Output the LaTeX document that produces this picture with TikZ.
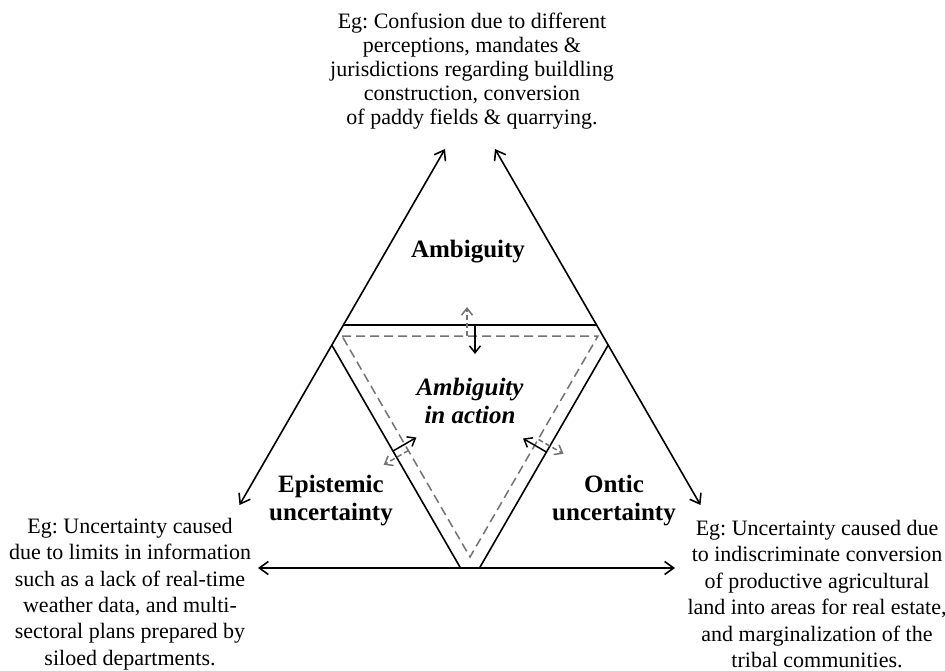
\documentclass[tikz,border=0pt]{standalone}
\usepackage{fontspec}
\setmainfont{Liberation Serif}
\usetikzlibrary{arrows.meta}
\frenchspacing
\begin{document}
\begin{tikzpicture}[x=1pt,y=-1pt,
  mainarr/.style={line width=1.6pt,{Straight Barb[length=9pt,width=13pt]}-{Straight Barb[length=9pt,width=13pt]}},
  edgeline/.style={line width=1.6pt},
  dashg/.style={draw=black!55,line width=1.5pt,dash pattern=on 9pt off 5pt},
  smallarr/.style={line width=1.5pt,-{Straight Barb[length=7pt,width=11pt]}},
  smalldash/.style={draw=black!55,line width=1.5pt,dash pattern=on 5pt off 3pt,-{Straight Barb[length=7pt,width=11pt]}},
  egtop/.style={font=\fontsize{22}{24}\selectfont,align=center,inner sep=0pt},
  egbot/.style={font=\fontsize{22}{26.4}\selectfont,align=center,inner sep=0pt},
  lab/.style={font=\fontsize{25}{28}\selectfont\bfseries,align=center,inner sep=0pt},
  labit/.style={font=\fontsize{25}{28}\selectfont\bfseries\itshape,align=center,inner sep=0pt}]
\useasboundingbox[fill=white] (0,0) rectangle (945,671);
% coordinates
\coordinate (LT) at (445,149);
\coordinate (LB) at (239.5,505);
\coordinate (RT) at (495,149);
\coordinate (RB) at (700.5,505);
\coordinate (BL) at (258,568);
\coordinate (BR) at (675,568);
\coordinate (H1) at (343.4,325);
\coordinate (H2) at (596.6,325);
\coordinate (IL1) at (331.8,345);
\coordinate (IL2) at (460.5,568);
\coordinate (IR1) at (608.2,345);
\coordinate (IR2) at (479.5,568);
\coordinate (D1) at (342,336);
\coordinate (D2) at (598,336);
\coordinate (D3) at (470,557);
% small arrow ends
\coordinate (sa1) at (475,325);
\coordinate (sa2) at (475,354);
\coordinate (da1) at (467,336);
\coordinate (da2) at (467,307);
\coordinate (sl1) at (393,451);
\coordinate (sl2) at (416.4,437.5);
\coordinate (dl1) at (408.5,450.5);
\coordinate (dl2) at (383.7,464.8);
\coordinate (sr1) at (546.4,452);
\coordinate (sr2) at (523,438.5);
\coordinate (dr1) at (538.5,439.5);
\coordinate (dr2) at (563.5,453.8);
% main arrows
\draw[mainarr] (LT) -- (LB);
\draw[mainarr] (RT) -- (RB);
\draw[mainarr] (BL) -- (BR);
\draw[edgeline] (H1) -- (H2);
\draw[edgeline] (IL1) -- (IL2);
\draw[edgeline] (IR1) -- (IR2);
\draw[dashg] (D1) -- (D2) -- (D3) -- cycle;
% small arrows
\draw[smallarr] (sa1) -- (sa2);
\draw[smalldash] (da1) -- (da2);
\draw[smallarr] (sl1) -- (sl2);
\draw[smalldash] (dl1) -- (dl2);
\draw[smallarr] (sr1) -- (sr2);
\draw[smalldash] (dr1) -- (dr2);
% texts
\node[egtop] (egamb) at (472,71) {Eg: Confusion due to different\\perceptions, mandates \&\\jurisdictions regarding buildling\\construction, conversion\\of paddy fields \& quarrying.};
\node[egbot] (egepi) at (130,594) {Eg: Uncertainty caused\\due to limits in information\\such as a lack of real-time\\weather data, and multi-\\sectoral plans prepared by\\siloed departments.};
\node[egbot] (egont) at (817,594) {Eg: Uncertainty caused due\\to indiscriminate conversion\\of productive agricultural\\land into areas for real estate,\\and marginalization of the\\tribal communities.};
\node[lab] (amb) at (468,252) {Ambiguity};
\node[labit] (ambact) at (470,401) {Ambiguity\\in action};
\node[lab] (epi) at (331,501) {Epistemic\\uncertainty};
\node[lab] (ont) at (614,501) {Ontic\\uncertainty};
\end{tikzpicture}
\end{document}
